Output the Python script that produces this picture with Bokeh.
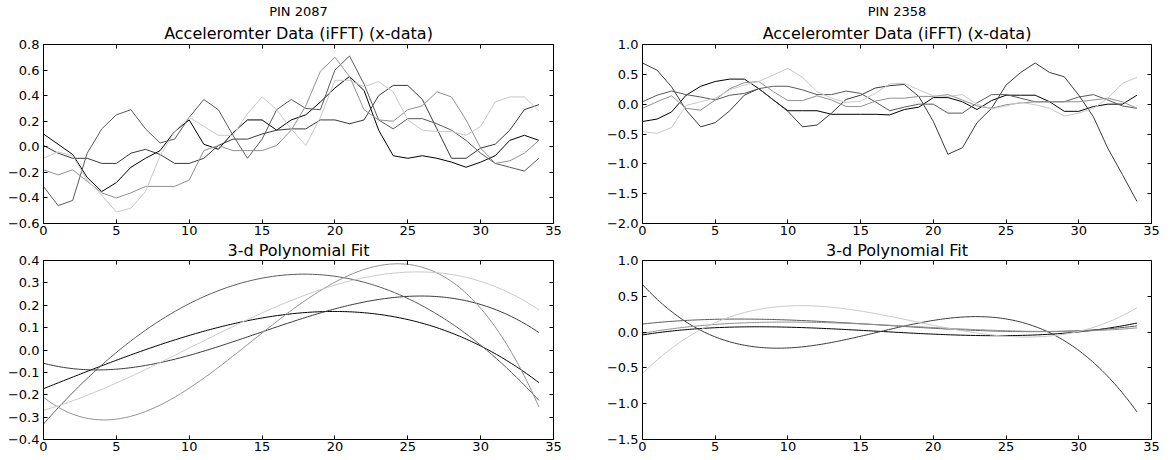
import numpy as np
from bokeh.plotting import figure
from bokeh.layouts import row, column
from bokeh.models import Range1d, FixedTicker, LinearAxis, Title, CustomJSTickFormatter
from bokeh.embed import file_html
from bokeh.resources import INLINE

# ---------------- data ----------------
x = list(range(35))
x_ticks = [0, 5, 10, 15, 20, 25, 30, 35]

pins = ["PIN 2087", "PIN 2358"]
data_title = "Acceleromter Data (iFFT) (x-data)"
fit_title = "3-d Polynomial Fit"
colors = ["#000000", "#3a3a3a", "#5a5a5a", "#909090", "#c8c8c8"]

# PIN 2087 accelerometer series
a_black = [0.10, 0.02, -0.06, -0.24, -0.35, -0.28, -0.16, -0.09, -0.03, 0.12, 0.21, 0.02, -0.02, 0.11,
           0.21, 0.21, 0.13, 0.21, 0.25, 0.35, 0.46, 0.55, 0.44, 0.13, -0.07, -0.09, -0.07, -0.09,
           -0.12, -0.16, -0.12, -0.07, 0.05, 0.09, 0.05]
a_dark = [0.01, -0.05, -0.09, -0.09, -0.13, -0.13, -0.05, -0.02, -0.06, -0.13, -0.13, -0.09, 0.01, 0.06,
          0.06, 0.10, 0.13, 0.14, 0.14, 0.21, 0.21, 0.18, 0.21, 0.40, 0.48, 0.48, 0.37, 0.14, -0.09,
          -0.09, -0.01, 0.02, 0.13, 0.29, 0.33]
a_mid = [-0.31, -0.46, -0.42, -0.05, 0.14, 0.25, 0.29, 0.14, 0.03, 0.06, 0.23, 0.37, 0.29, 0.09, -0.09,
         0.06, 0.29, 0.37, 0.30, 0.29, 0.60, 0.71, 0.49, 0.21, 0.14, 0.22, 0.22, 0.18, 0.13, 0.05,
         -0.05, -0.13, -0.16, -0.19, -0.09]
a_gray = [-0.18, -0.22, -0.18, -0.27, -0.36, -0.40, -0.36, -0.31, -0.31, -0.31, -0.26, -0.03, 0.01, -0.03,
          -0.03, -0.03, 0.01, 0.13, 0.32, 0.59, 0.70, 0.55, 0.29, 0.21, 0.20, 0.29, 0.32, 0.43, 0.39,
          0.21, -0.01, -0.13, -0.11, -0.05, 0.05]
a_light = [-0.09, -0.04, -0.07, -0.26, -0.38, -0.51, -0.48, -0.35, -0.07, 0.12, 0.23, 0.16, 0.09, 0.09,
           0.26, 0.39, 0.29, 0.14, 0.01, 0.23, 0.52, 0.52, 0.47, 0.51, 0.43, 0.21, 0.13, 0.12, 0.12,
           0.09, 0.16, 0.35, 0.39, 0.39, 0.28]

# PIN 2358 accelerometer series
b_black = [-0.29, -0.25, -0.13, 0.15, 0.30, 0.38, 0.42, 0.42, 0.26, 0.07, -0.11, -0.11, -0.11, -0.17,
           -0.17, -0.17, -0.17, -0.18, -0.09, -0.05, 0.11, 0.11, 0.04, -0.09, 0.06, 0.15, 0.15, 0.15,
           0.04, -0.12, -0.12, -0.04, 0.00, 0.00, 0.15]
b_dark = [0.69, 0.57, 0.29, -0.10, -0.38, -0.31, -0.11, 0.15, 0.26, 0.07, -0.12, -0.38, -0.35, -0.15,
          0.08, 0.15, 0.27, 0.31, 0.33, 0.13, -0.29, -0.84, -0.73, -0.31, -0.07, 0.32, 0.53, 0.69,
          0.53, 0.46, 0.15, -0.21, -0.74, -1.18, -1.63]
b_mid = [0.04, 0.15, 0.22, 0.16, 0.12, 0.07, 0.15, 0.18, 0.26, 0.30, 0.30, 0.24, 0.16, 0.16, 0.22, 0.18,
         0.04, -0.11, -0.05, 0.00, 0.00, -0.15, -0.15, 0.02, 0.16, 0.16, 0.10, 0.04, 0.04, 0.04, 0.12,
         0.16, 0.07, -0.03, -0.07]
b_gray = [-0.07, 0.04, 0.14, -0.07, -0.10, 0.07, 0.26, 0.36, 0.38, 0.21, 0.06, 0.06, 0.14, 0.07, -0.04,
          -0.04, 0.05, 0.10, 0.10, 0.13, 0.13, 0.16, 0.07, -0.03, -0.07, -0.01, 0.02, 0.04, 0.04, 0.04,
          0.04, 0.07, 0.10, 0.04, -0.07]
b_light = [-0.46, -0.49, -0.39, -0.02, 0.04, 0.10, 0.24, 0.32, 0.38, 0.49, 0.60, 0.45, 0.21, 0.10, 0.03,
           0.05, 0.18, 0.34, 0.35, 0.24, 0.14, 0.13, 0.16, 0.00, -0.08, -0.03, 0.03, -0.01, -0.07,
           -0.20, -0.15, -0.07, 0.10, 0.35, 0.45]

series_2087 = [a_black, a_dark, a_mid, a_gray, a_light]
series_2358 = [b_black, b_dark, b_mid, b_gray, b_light]

y_ticks_tl = [-0.6, -0.4, -0.2, 0.0, 0.2, 0.4, 0.6, 0.8]
y_ticks_bl = [-0.4, -0.3, -0.2, -0.1, 0.0, 0.1, 0.2, 0.3, 0.4]
y_ticks_tr = [-2.0, -1.5, -1.0, -0.5, 0.0, 0.5, 1.0]
y_ticks_br = [-1.5, -1.0, -0.5, 0.0, 0.5, 1.0]

FONT = "DejaVu Sans"

yfmt_code = """
var v = Math.abs(tick) < 1e-9 ? 0 : tick;
var s = v.toFixed(1);
if (s.charAt(0) == '-') { s = '\\u2212' + s.substring(1); }
return s;
"""
xfmt_code = """
var v = Math.abs(tick) < 1e-9 ? 0 : tick;
return v.toFixed(0);
"""


def style_axis(ax, ticks, code, show_labels):
    ax.ticker = FixedTicker(ticks=ticks)
    ax.major_tick_in = 4
    ax.major_tick_out = 0
    ax.minor_tick_in = 0
    ax.minor_tick_out = 0
    ax.major_tick_line_color = "black"
    ax.axis_line_color = "black"
    ax.axis_line_width = 1
    if show_labels:
        ax.formatter = CustomJSTickFormatter(code=code)
        ax.major_label_text_font = FONT
        ax.major_label_text_font_size = "13px"
        ax.major_label_text_color = "black"
    else:
        ax.formatter = CustomJSTickFormatter(code="return '';")
        ax.major_label_text_font_size = "0px"
        ax.major_label_standoff = 0


def make_fig(width, height, ml, mr, mt, mb, yrange, yticks, titles):
    p = figure(width=width, height=height, title="",
               x_range=Range1d(0, 35), y_range=Range1d(*yrange),
               output_backend="svg", toolbar_location=None,
               min_border_left=ml, min_border_right=mr,
               min_border_top=mt, min_border_bottom=mb)
    p.grid.visible = False
    p.outline_line_color = "black"
    p.background_fill_color = "white"
    p.border_fill_color = "white"
    style_axis(p.xaxis[0], x_ticks, xfmt_code, True)
    p.xaxis[0].major_label_standoff = 2
    style_axis(p.yaxis[0], yticks, yfmt_code, True)
    p.yaxis[0].major_label_standoff = 4
    top = LinearAxis()
    style_axis(top, x_ticks, xfmt_code, False)
    p.add_layout(top, "above")
    right = LinearAxis()
    style_axis(right, yticks, yfmt_code, False)
    p.add_layout(right, "right")
    for text, size, standoff, valign in titles:
        p.add_layout(Title(text=text, align="center", text_font=FONT, text_font_size=size,
                           text_font_style="normal", text_color="black", standoff=standoff,
                           vertical_align=valign), "above")
    return p


x_fine = np.linspace(0, 34, 200)


def draw_column(pin, series, ytr, ytt, ybr, ybt, w, ml, mr):
    top = make_fig(w, 239, ml, mr, 44, 16, ytr, ytt,
                   [(data_title, "16px", 1, "middle"), (pin, "13px", 4, "top")])
    bot = make_fig(w, 221, ml, mr, 21, 21, ybr, ybt,
                   [(fit_title, "16px", 0, "middle")])
    for ys, c in zip(series, colors):
        top.line(x, ys, line_color=c, line_width=1)
        coef = np.polyfit(x, ys, 3)
        bot.line(x_fine, np.polyval(coef, x_fine), line_color=c, line_width=1)
    return column(top, bot)


left = draw_column(pins[0], series_2087, (-0.6, 0.8), y_ticks_tl, (-0.4, 0.4), y_ticks_bl, 598, 43, 45)
right = draw_column(pins[1], series_2358, (-2.0, 1.0), y_ticks_tr, (-1.5, 1.0), y_ticks_br, 574, 44, 21)

layout = row(left, right)
open("out.html", "w").write(file_html(layout, INLINE))
